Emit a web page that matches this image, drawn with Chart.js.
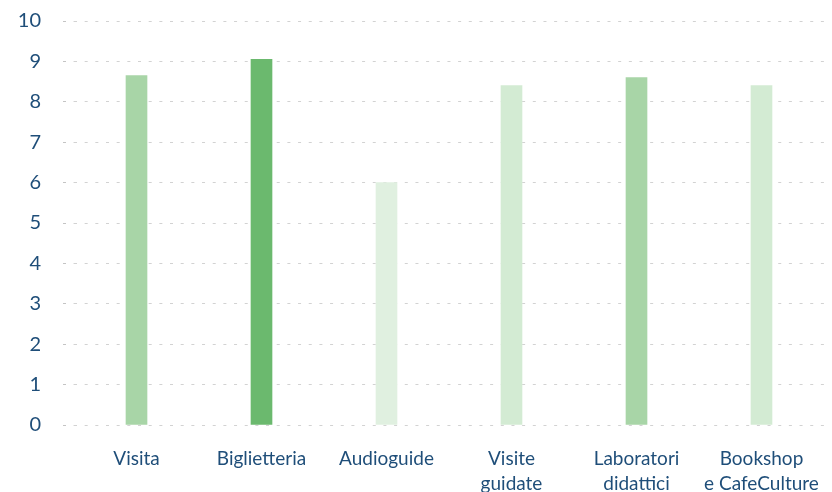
<!DOCTYPE html>
<html>
<head>
<meta charset="utf-8">
<script src="https://cdn.jsdelivr.net/npm/chart.js@4/dist/chart.umd.min.js"></script>
<style>
  html, body { margin: 0; padding: 0; background: #fff; overflow: hidden; }
  #wrap { position: relative; width: 832px; height: 498px; }
</style>
</head>
<body>
<div id="wrap"><canvas id="scoreChart"></canvas></div>
<script>
'use strict'

const categories = ['Visita', ['Biglietteria'], 'Audioguide', ['Visite', 'guidate'], ['Laboratori', 'didattici'], ['Bookshop', 'e CafeCulture']];
const scores = [8.65, 9.05, 6.0, 8.4, 8.6, 8.4];
const barColors = ['#a8d5a7', '#6bb96e', '#e0f0e0', '#d3ebd3', '#a8d5a7', '#d3ebd3'];
const yTicks = [0, 1, 2, 3, 4, 5, 6, 7, 8, 9, 10];

const textColor = '#1f4e79';
const gridColor = '#d2d2d2';

new Chart(document.getElementById('scoreChart'), {
  type: 'bar',
  data: {
    labels: categories,
    datasets: [{
      label: 'Punteggio',
      data: scores,
      backgroundColor: barColors,
      borderWidth: 0,
      barThickness: 21
    }]
  },
  options: {
    responsive: true,
    maintainAspectRatio: false,
    animation: false,
    layout: { padding: { left: 18, right: 8, top: 21, bottom: 0 } },
    plugins: {
      legend: { display: false },
      tooltip: { enabled: false }
    },
    scales: {
      x: {
        afterFit: scale => {
          scale.height = 73
          // let the long last label run into the right margin like the original
          scale.paddingLeft = 0
          scale.paddingRight = 0
        },
        grid: { display: false, drawTicks: false },
        border: { display: false },
        ticks: {
          color: textColor,
          padding: 22,
          maxRotation: 0,
          autoSkip: false,
          font: { family: 'Lato', size: 19, lineHeight: 1.29 }
        }
      },
      y: {
        min: 0,
        max: 10,
        afterBuildTicks: scale => { scale.ticks = yTicks.map(v => ({ value: v })) },
        afterFit: scale => {
          scale.width = 56
          scale.paddingTop = 0
          scale.paddingBottom = 0
        },
        border: { display: false, dash: [3, 7.67] },
        grid: {
          color: gridColor,
          lineWidth: 1,
          drawTicks: true,
          tickLength: 11,
          tickColor: '#c4c4c4',
          tickBorderDash: [3, 7.67]
        },
        ticks: {
          color: textColor,
          padding: 22,
          font: { family: 'Lato', size: 20 }
        }
      }
    }
  }
});
</script>
</body>
</html>
